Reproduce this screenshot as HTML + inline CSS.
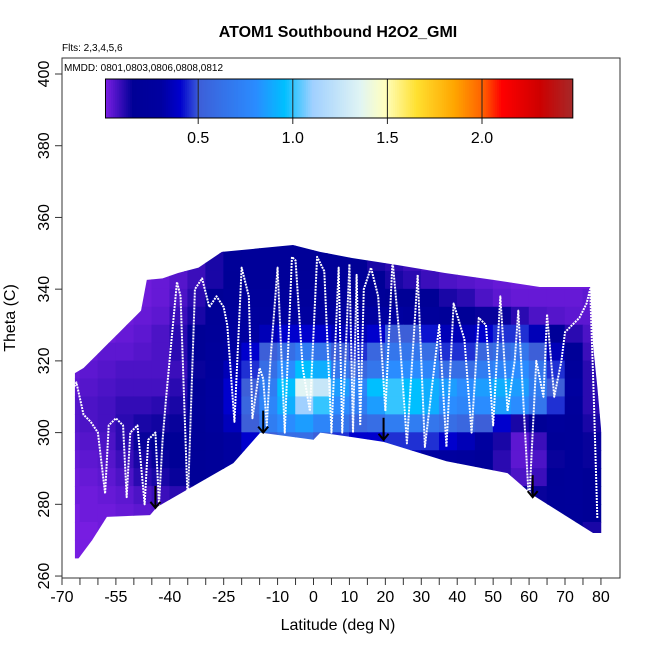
<!DOCTYPE html>
<html><head><meta charset="utf-8"><style>
html,body{margin:0;padding:0;background:#fff;}
svg{display:block;font-family:"Liberation Sans",sans-serif;}
</style></head><body>
<svg id="chart" width="650" height="650" viewBox="0 0 650 650">
<defs>
<clipPath id="domain"><polygon id="domainPoly" points=""/></clipPath>
</defs>
<text x="338" y="37" text-anchor="middle" font-size="16" font-weight="bold">ATOM1 Southbound H2O2_GMI</text>
<text x="62" y="51" font-size="10">Flts: 2,3,4,5,6</text>
<g id="heat" clip-path="url(#domain)"><g id="cells"></g></g>
<g id="trace"></g>
<g id="arrows"></g>
<rect x="62" y="58" width="558" height="520" fill="none" stroke="#333" stroke-width="1"/>
<text x="64" y="71" font-size="10">MMDD: 0801,0803,0806,0808,0812</text>
<g id="cbar"></g>
<g id="axes"></g>
<text x="338" y="630" text-anchor="middle" font-size="16">Latitude (deg N)</text>
<text transform="translate(15,318) rotate(-90)" text-anchor="middle" font-size="16">Theta (C)</text>
</svg>
<script>
const latCenters=[-67.5,-62.5,-57.5,-52.5,-47.5,-42.5,-37.5,-32.5,-27.5,-22.5,-17.5,-12.5,-7.5,-2.5,2.5,7.5,12.5,17.5,22.5,27.5,32.5,37.5,42.5,47.5,52.5,57.5,62.5,67.5,72.5,77.5];
const thetaCenters=[352.5,347.5,342.5,337.5,332.5,327.5,322.5,317.5,312.5,307.5,302.5,297.5,292.5,287.5,282.5,277.5,272.5,267.5];
const gridValues=[
[0.01,0.01,0.01,0.01,0.02,0.03,0.05,0.08,0.12,0.18,0.2,0.2,0.2,0.18,0.18,0.18,0.15,0.12,0.1,0.08,0.06,0.05,0.04,0.03,0.02,0.02,0.02,0.02,0.02,0.02],
[0.01,0.01,0.01,0.01,0.02,0.03,0.05,0.08,0.12,0.18,0.2,0.2,0.2,0.18,0.18,0.18,0.15,0.12,0.1,0.08,0.06,0.05,0.04,0.03,0.02,0.02,0.02,0.02,0.02,0.02],
[0.01,0.01,0.01,0.01,0.02,0.03,0.05,0.08,0.12,0.16,0.2,0.2,0.2,0.2,0.2,0.2,0.18,0.15,0.12,0.1,0.08,0.06,0.05,0.04,0.03,0.02,0.02,0.02,0.02,0.02],
[0.01,0.01,0.01,0.02,0.02,0.03,0.06,0.1,0.15,0.2,0.22,0.22,0.22,0.22,0.22,0.22,0.2,0.18,0.15,0.15,0.15,0.12,0.1,0.06,0.04,0.03,0.03,0.03,0.03,0.04],
[0.02,0.02,0.02,0.02,0.03,0.04,0.08,0.12,0.18,0.22,0.25,0.25,0.28,0.28,0.28,0.28,0.3,0.3,0.3,0.25,0.22,0.2,0.16,0.14,0.14,0.1,0.06,0.05,0.04,0.04],
[0.02,0.02,0.02,0.03,0.04,0.06,0.1,0.15,0.2,0.25,0.3,0.35,0.4,0.4,0.4,0.35,0.35,0.4,0.5,0.5,0.42,0.35,0.35,0.4,0.45,0.45,0.35,0.18,0.1,0.06],
[0.03,0.03,0.04,0.04,0.05,0.06,0.1,0.15,0.22,0.3,0.4,0.5,0.6,0.7,0.65,0.5,0.45,0.55,0.65,0.65,0.6,0.45,0.45,0.55,0.6,0.65,0.5,0.35,0.18,0.08],
[0.03,0.04,0.05,0.06,0.06,0.06,0.08,0.14,0.22,0.35,0.45,0.6,0.8,0.95,0.9,0.65,0.55,0.65,0.8,0.8,0.75,0.6,0.6,0.7,0.75,0.8,0.65,0.45,0.22,0.1],
[0.04,0.05,0.06,0.07,0.07,0.07,0.1,0.16,0.26,0.4,0.5,0.7,0.95,1.35,1.25,0.85,0.75,0.95,1.0,0.95,0.9,0.85,0.8,0.85,0.9,0.85,0.7,0.5,0.28,0.1],
[0.05,0.06,0.07,0.09,0.09,0.1,0.12,0.18,0.26,0.4,0.55,0.75,0.9,1.1,1.0,0.8,0.7,0.85,1.0,0.95,0.9,0.8,0.75,0.8,0.85,0.8,0.65,0.45,0.22,0.1],
[0.05,0.06,0.07,0.1,0.12,0.13,0.14,0.16,0.24,0.36,0.5,0.7,0.8,0.85,0.75,0.65,0.55,0.6,0.7,0.7,0.65,0.6,0.55,0.5,0.4,0.12,0.15,0.22,0.2,0.12],
[0.04,0.05,0.06,0.1,0.14,0.15,0.15,0.16,0.2,0.28,0.4,0.5,0.6,0.6,0.5,0.45,0.4,0.4,0.45,0.45,0.45,0.4,0.35,0.3,0.12,0.04,0.08,0.18,0.2,0.14],
[0.03,0.04,0.05,0.08,0.12,0.14,0.15,0.16,0.2,0.28,0.35,0.35,0.35,0.35,0.35,0.35,0.35,0.35,0.35,0.35,0.3,0.28,0.25,0.2,0.1,0.04,0.06,0.14,0.2,0.14],
[0.02,0.03,0.04,0.06,0.1,0.12,0.14,0.16,0.2,0.25,0.25,0.25,0.25,0.25,0.25,0.25,0.25,0.25,0.25,0.25,0.25,0.25,0.2,0.15,0.1,0.06,0.08,0.16,0.2,0.15],
[0.02,0.02,0.03,0.04,0.06,0.08,0.1,0.12,0.15,0.15,0.15,0.15,0.15,0.15,0.15,0.15,0.15,0.15,0.15,0.15,0.15,0.15,0.15,0.15,0.15,0.14,0.14,0.18,0.2,0.15],
[0.01,0.02,0.02,0.03,0.04,0.05,0.08,0.1,0.1,0.1,0.1,0.1,0.1,0.1,0.1,0.1,0.1,0.1,0.1,0.1,0.1,0.1,0.12,0.12,0.12,0.12,0.15,0.18,0.2,0.15],
[0.01,0.01,0.02,0.02,0.03,0.04,0.06,0.08,0.08,0.08,0.08,0.08,0.08,0.08,0.08,0.08,0.08,0.08,0.08,0.08,0.1,0.1,0.1,0.1,0.12,0.12,0.15,0.15,0.15,0.12],
[0.01,0.01,0.01,0.02,0.02,0.03,0.05,0.06,0.06,0.06,0.06,0.06,0.06,0.06,0.06,0.06,0.06,0.06,0.06,0.06,0.08,0.08,0.1,0.1,0.1,0.12,0.12,0.12,0.12,0.12]];
const domainLat=[-66.4,-66.4,-64,-62,-60,-58,-56,-54,-52,-50,-48,-46.4,-42,-37.7,-32,-25.5,-5.7,1.8,10.7,23.5,36.6,50,63,77,77.8,79,80.3,80.3,77.8,61,54,37,19.5,10.3,1.9,0,-14.8,-22.3,-43.5,-45.5,-57.5,-61.6,-65.7];
const domainTheta=[264.5,316.6,318,320,322,324,326,328,330,332,334,342.6,343,344.5,346,350.4,352.3,350.4,348.7,346.7,344.5,342.6,340.6,340.6,324.4,312.7,298,272,272,282.6,288.7,292,297.4,298.8,300,298,300,291.5,279.3,277,276.5,270,264.5];
const traceLat=[-68,-68,-66,-64,-62,-60,-58,-57,-55,-53,-52,-51,-49,-47,-46,-44,-43,-42,-41,-38,-37,-35,-33,-31,-29,-27,-25,-24,-22,-20,-18,-17,-15,-14,-13,-12,-10,-8,-6,-5,-3,-1,1,3,5,7,8,10,11,12,13,14,16,18,20,22,24,26,29,31,35,37,39,42,44,46,48,50,52,54,56,57,60,62,64,65,67,69,70,72,74,76,77,78,79];
const traceTheta=[268,310,314,305,303,300,283,302,304,302,282,300,302,280,298,300,280,298,310,342,338,280,340,343,335,338,335,330,303,346,338,304,318,315,302,320,346,300,349,348,318,306,349,345,300,346,300,347,300,344,302,340,346,338,306,348,326,297,344,296,330,296,336,326,300,332,330,302,338,306,320,334,280,320,310,333,310,320,328,330,332,336,340,310,276];
const arrowLat=[-44,-14,19.5,61];
const arrowTheta=[279,300,298,282];
const cbTicks=[0.5,1.0,1.5,2.0];

const xs=l=>313.5+l*3.593;
const ys=t=>74+(400-t)*3.586;
const stops=[[0,[127,31,230]],[0.15,[0,0,150]],[0.3,[0,0,160]],[0.4,[0,0,205]],[0.5,[61,95,216]],[0.8,[42,140,255]],[0.95,[0,191,255]],[1.1,[160,208,255]],[1.35,[224,244,244]],[1.48,[255,255,192]],[1.65,[255,224,48]],[1.85,[255,165,0]],[2.0,[255,96,0]],[2.1,[255,0,0]],[2.3,[205,0,0]],[2.48,[165,42,42]]];
function col(v){
  if(v<=stops[0][0])return `rgb(${stops[0][1]})`;
  for(let i=1;i<stops.length;i++){if(v<=stops[i][0]){const a=stops[i-1],b=stops[i],f=(v-a[0])/(b[0]-a[0]);return 'rgb('+a[1].map((c,k)=>Math.round(c+(b[1][k]-c)*f)).join(',')+')';}}
  return `rgb(${stops[stops.length-1][1]})`;
}
const NS='http://www.w3.org/2000/svg';
function mk(tag,attrs,parent){const e=document.createElementNS(NS,tag);for(const k in attrs)e.setAttribute(k,attrs[k]);parent.appendChild(e);return e;}

document.getElementById('domainPoly').setAttribute('points',domainLat.map((l,i)=>xs(l)+','+ys(domainTheta[i])).join(' '));
const cells=document.getElementById('cells');
thetaCenters.forEach((t,r)=>latCenters.forEach((l,c)=>{
  const x=xs(l-2.5),y=ys(t+2.5);
  const e=mk('rect',{x:x-0.3,y:y-0.3,width:xs(l+2.5)-x+0.6,height:ys(t-2.5)-y+0.6,fill:col(gridValues[r][c])},cells);
  
  
}));

const tr=document.getElementById('trace');
const pl=mk('polyline',{points:traceLat.map((l,i)=>xs(l)+','+ys(traceTheta[i])).join(' '),fill:'none',stroke:'#fff','stroke-width':2,'stroke-dasharray':'2 1','stroke-linejoin':'round'},tr);



const ar=document.getElementById('arrows');
arrowLat.forEach((l,i)=>{
  const x=xs(l),yb=ys(arrowTheta[i]);
  const g=mk('g',{stroke:'#000','stroke-width':2,fill:'none'},ar);
  
  
  mk('line',{x1:x,y1:yb-22,x2:x,y2:yb},g);
  mk('polyline',{points:`${x-5},${yb-6} ${x},${yb} ${x+5},${yb-6}`},g);
});

const cb=document.getElementById('cbar');
const cbx=v=>103.6+v*189.2;
for(let v=0.01;v<2.47;v+=0.01){mk('rect',{x:cbx(v),y:79,width:Math.min(2.4,cbx(2.48)-cbx(v)),height:39,fill:col(v)},cb);}
cbTicks.forEach(v=>{
  const e=mk('line',{x1:cbx(v),y1:79,x2:cbx(v),y2:124,stroke:'#222','stroke-width':1},cb);
  
  
  const t=mk('text',{x:cbx(v),y:143,'text-anchor':'middle','font-size':16},cb);t.textContent=v.toFixed(1);
  
  
});
mk('rect',{x:cbx(0.01),y:79,width:cbx(2.48)-cbx(0.01),height:39,fill:'none',stroke:'#000','stroke-width':1},cb);

const ax=document.getElementById('axes');
const yTicks=[260,280,300,320,340,360,380,400];
yTicks.forEach(t=>{
  mk('line',{x1:55,y1:ys(t),x2:62,y2:ys(t),stroke:'#333'},ax);
  const e=mk('text',{transform:`translate(49,${ys(t)}) rotate(-90)`,'text-anchor':'middle','font-size':16},ax);e.textContent=t;
  
  
});
for(let l=-70;l<=80;l+=5){mk('line',{x1:xs(l),y1:578,x2:xs(l),y2:585,stroke:'#333'},ax);}
const xLabels=[-70,-55,-40,-25,-10,0,10,20,30,40,50,60,70,80];
xLabels.forEach(l=>{
  const e=mk('text',{x:xs(l),y:602,'text-anchor':'middle','font-size':16},ax);e.textContent=l;
  
  
});
</script>
</body></html>
